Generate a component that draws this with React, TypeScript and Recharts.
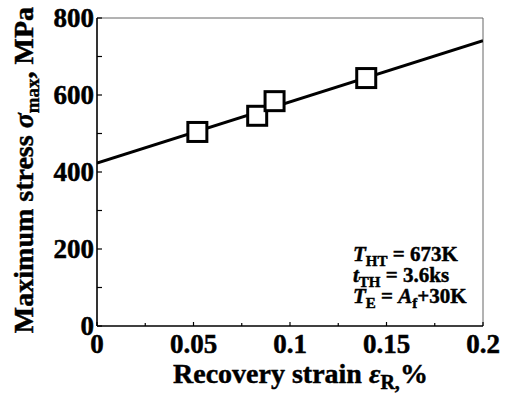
import React from 'react';
import { ComposedChart, Line, Scatter, XAxis, YAxis, ReferenceLine } from 'recharts';

const strainPoints = [0.052, 0.083, 0.092, 0.1395];
const stressPoints = [504, 546, 584, 644];
const fitStrain = [0, 0.2];
const fitStress = [423, 741];
const xTicks = [0, 0.025, 0.05, 0.075, 0.1, 0.125, 0.15, 0.175, 0.2];
const xMajorValues = [0, 0.05, 0.1, 0.15, 0.2];
const xMajorLabels = ['0', '0.05', '0.1', '0.15', '0.2'];
const yTicks = [0, 100, 200, 300, 400, 500, 600, 700, 800];
const yMajorValues = [0, 200, 400, 600, 800];
const yMajorLabels = ['0', '200', '400', '600', '800'];

const pointData = strainPoints.map((x, i) => ({ x, y: stressPoints[i] }));
const fitData = fitStrain.map((x, i) => ({ x, y: fitStress[i] }));

const FONT = "'Liberation Serif', 'Times New Roman', Times, serif";
const textStyle: React.CSSProperties = { fontFamily: FONT, fontWeight: 700 };

const XTick = (props: any) => {
  const { x, y, payload } = props;
  const idx = xMajorValues.findIndex((v) => Math.abs(v - payload.value) < 1e-9);
  const major = idx >= 0;
  return (
    <g>
      <line x1={x} x2={x} y1={y} y2={y - (major ? 4 : 3)} stroke="#000" strokeWidth={1.2} />
      {major && (
        <text x={x} y={y + 27} textAnchor="middle" style={{ ...textStyle, fontSize: 27 }} fill="#000" stroke="#000" strokeWidth={0.5}>
          {xMajorLabels[idx]}
        </text>
      )}
    </g>
  );
};

const YTick = (props: any) => {
  const { x, y, payload } = props;
  const idx = yMajorValues.findIndex((v) => Math.abs(v - payload.value) < 1e-9);
  const major = idx >= 0;
  return (
    <g>
      <line x1={x} x2={x + 5} y1={y} y2={y} stroke="#000" strokeWidth={1.2} />
      {major && (
        <text x={x - 3} y={y + 9} textAnchor="end" style={{ ...textStyle, fontSize: 27 }} fill="#000" stroke="#000" strokeWidth={0.5}>
          {yMajorLabels[idx]}
        </text>
      )}
    </g>
  );
};

const SquareMarker = (props: any) => {
  const { cx, cy } = props;
  if (cx == null || cy == null) return null;
  const s = 19;
  return <rect x={cx - s / 2} y={cy - s / 2} width={s} height={s} fill="#fff" stroke="#000" strokeWidth={3} />;
};

export default function App() {
  return (
    <div style={{ position: 'absolute', left: 0, top: 0, width: 507, height: 395, background: '#fff' }}>
      <ComposedChart width={507} height={395} margin={{ top: 18, right: 24, bottom: 29, left: 47 }}>
        <XAxis
          dataKey="x"
          type="number"
          domain={[0, 0.2]}
          ticks={xTicks}
          interval={0}
          height={40}
          tickSize={0}
          tickMargin={0}
          tickLine={false}
          tick={<XTick />}
          axisLine={{ stroke: '#000', strokeWidth: 1.6 }}
          allowDataOverflow
        />
        <YAxis
          dataKey="y"
          type="number"
          domain={[0, 800]}
          ticks={yTicks}
          interval={0}
          width={50}
          tickSize={0}
          tickMargin={0}
          tickLine={false}
          tick={<YTick />}
          axisLine={{ stroke: '#000', strokeWidth: 1.6 }}
          allowDataOverflow
        />
        <ReferenceLine y={800} stroke="#666" strokeWidth={1} />
        <ReferenceLine x={0.2} stroke="#666" strokeWidth={1} />
        <Line
          data={fitData}
          dataKey="y"
          type="linear"
          stroke="#000"
          strokeWidth={3}
          dot={false}
          activeDot={false}
          isAnimationActive={false}
        />
        <Scatter data={pointData} dataKey="y" shape={<SquareMarker />} isAnimationActive={false} />
      </ComposedChart>
      <svg
        width={507}
        height={395}
        style={{ position: 'absolute', left: 0, top: 0, pointerEvents: 'none', ...textStyle }}
        fill="#000"
        stroke="#000"
        strokeWidth={0.45}
      >
        <text transform="translate(33,170) rotate(-90)" textAnchor="middle" style={{ ...textStyle, fontSize: 28 }}>
          Maximum stress <tspan fontStyle="italic">σ</tspan>
          <tspan fontSize={19} dy={6}>max</tspan>
          <tspan dy={-6}>, MPa</tspan>
        </text>
        <text x={173} y={383} style={{ ...textStyle, fontSize: 28 }}>
          Recovery strain <tspan fontStyle="italic">ε</tspan>
          <tspan fontSize={20} dy={6}>R,</tspan>
          <tspan dy={-6}>%</tspan>
        </text>
        <text x={353} y={261} style={{ ...textStyle, fontSize: 21 }}>
          <tspan fontStyle="italic">T</tspan>
          <tspan fontSize={15} dy={5}>HT</tspan>
          <tspan dy={-5}> = 673K</tspan>
        </text>
        <text x={353} y={282} style={{ ...textStyle, fontSize: 21 }}>
          <tspan fontStyle="italic">t</tspan>
          <tspan fontSize={15} dy={5}>TH</tspan>
          <tspan dy={-5}> = 3.6ks</tspan>
        </text>
        <text x={353} y={303} style={{ ...textStyle, fontSize: 21 }}>
          <tspan fontStyle="italic">T</tspan>
          <tspan fontSize={15} dy={5}>E</tspan>
          <tspan dy={-5}> = </tspan>
          <tspan fontStyle="italic">A</tspan>
          <tspan fontSize={15} dy={5}>f</tspan>
          <tspan dy={-5}>+30K</tspan>
        </text>
      </svg>
    </div>
  );
}
